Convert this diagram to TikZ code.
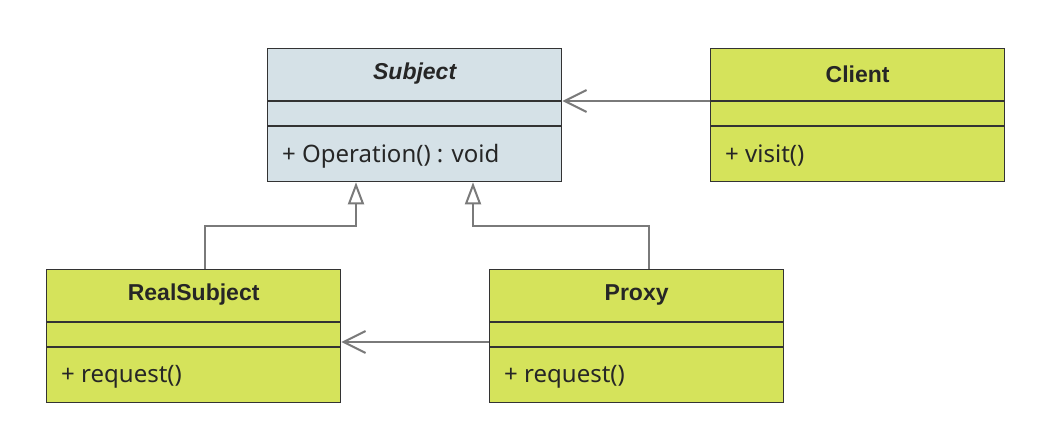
\documentclass[tikz,border=0pt]{standalone}
\usepackage{fontspec}
\setmainfont{Liberation Sans}
\newfontfamily\methfont{Noto Sans}
\usetikzlibrary{arrows.meta}
\definecolor{subjfill}{HTML}{D5E1E7}
\definecolor{grnfill}{HTML}{D5E35B}
\definecolor{linegray}{HTML}{7A7A7A}
\definecolor{boxline}{HTML}{333333}
\tikzset{
  cls/.style={draw=boxline, line width=1.3pt, minimum width=294pt, minimum height=133pt, inner sep=0pt, anchor=north west},
  divline/.style={draw=boxline, line width=1.3pt},
  titletext/.style={font=\fontsize{23}{26}\selectfont\bfseries, text=black!85},
  methtext/.style={font=\methfont\fontsize{24}{27}\selectfont, text=black!85, anchor=west, inner sep=0pt},
  assoc/.style={draw=linegray, line width=2.2pt, -{Straight Barb[length=22pt,width=22pt,line width=2pt]}},
  gen/.style={draw=linegray, line width=2.2pt, -{Triangle[open,length=22pt,width=16pt,line width=2pt,fill=white]}},
}
\newcommand\umlbox[6]{%
  \node[cls, fill=#4] (#1) at (#2,#3) {};
  \draw[divline] ([yshift=-53pt]#1.north west) -- ([yshift=-53pt]#1.north east);
  \draw[divline] ([yshift=-78pt]#1.north west) -- ([yshift=-78pt]#1.north east);
  \node[titletext] (#1-title) at ([yshift=-26pt]#1.north) {#5};
  \node[methtext] (#1-meth) at ([xshift=15pt,yshift=-108pt]#1.north west) {#6};
}
\begin{document}
\begin{tikzpicture}[x=1pt,y=-1pt]
\useasboundingbox[fill=white] (0,0) rectangle (1043,421);
\umlbox{subject}{267}{48}{subjfill}{\itshape Subject}{+ Operation() : void}
\umlbox{client}{710}{48}{grnfill}{Client}{+ visit()}
\umlbox{real}{46}{269}{grnfill}{RealSubject}{+ request()}
\umlbox{proxy}{489}{269}{grnfill}{Proxy}{+ request()}
\coordinate (j1) at (356,226);
\coordinate (j2) at (473,226);
\draw[assoc] ([yshift=-53pt]client.north west) -- ([yshift=-53pt]subject.north east);
\draw[assoc] ([yshift=-73pt]proxy.north west) -- ([yshift=-73pt]real.north east);
\draw[gen] ([xshift=11pt]real.north) |- (j1) -- (j1 |- subject.south);
\draw[gen] ([xshift=12pt]proxy.north) |- (j2) -- (j2 |- subject.south);
\end{tikzpicture}
\end{document}
